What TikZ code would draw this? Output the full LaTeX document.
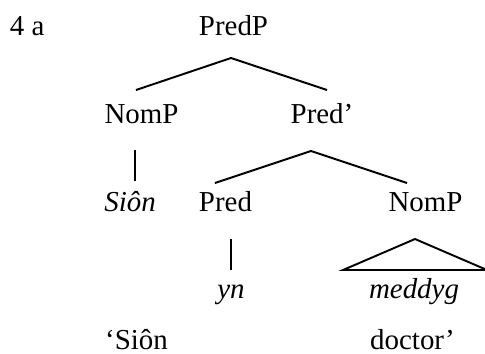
\documentclass[12pt,tikz,border=0pt]{standalone}
\usepackage{fontspec}
\setmainfont{Liberation Serif}

\begin{document}
\begin{tikzpicture}[x=0.415pt, y=-0.415pt, line width=0.8pt,
	every node/.style={inner sep=0pt, anchor=base}]
	\useasboundingbox (0, 0) rectangle (485, 353);
	\node[anchor=base west] (ex) at (9, 35) {4 a};
	\node (PP) at (233.5, 35) {PredP};
	\node (NP) at (141.5, 123) {NomP};
	\node (PB) at (322, 123) {Pred’};
	\node (Sn) at (130, 211) {\itshape Siôn};
	\node (Pd) at (225.5, 211) {Pred};
	\node (NPr) at (425.5, 211) {NomP};
	\node (yn) at (231, 298) {\itshape yn};
	\node (md) at (414, 298) {\itshape meddyg};
	\node (gS) at (136.5, 349) {‘Siôn};
	\node (gD) at (412.5, 349) {doctor’};
	\coordinate (PP-f) at (231, 58);
	\coordinate (NP-h) at (136, 90);
	\coordinate (PB-h) at (327, 90);
	\coordinate (NP-f) at (135, 150);
	\coordinate (Sn-h) at (135, 181);
	\coordinate (PB-f) at (311, 151);
	\coordinate (Pd-h) at (215, 183);
	\coordinate (NPr-h) at (407, 183);
	\coordinate (Pd-f) at (231, 239);
	\coordinate (yn-h) at (231, 270);
	\coordinate (NPr-f) at (415, 239);
	\coordinate (md-l) at (343, 270);
	\coordinate (md-r) at (487, 270);
	\draw (NP-h) -- (PP-f) -- (PB-h);
	\draw (NP-f) -- (Sn-h);
	\draw (Pd-h) -- (PB-f) -- (NPr-h);
	\draw (Pd-f) -- (yn-h);
	\draw (NPr-f) -- (md-l) -- (md-r) -- cycle;
\end{tikzpicture}
\end{document}
